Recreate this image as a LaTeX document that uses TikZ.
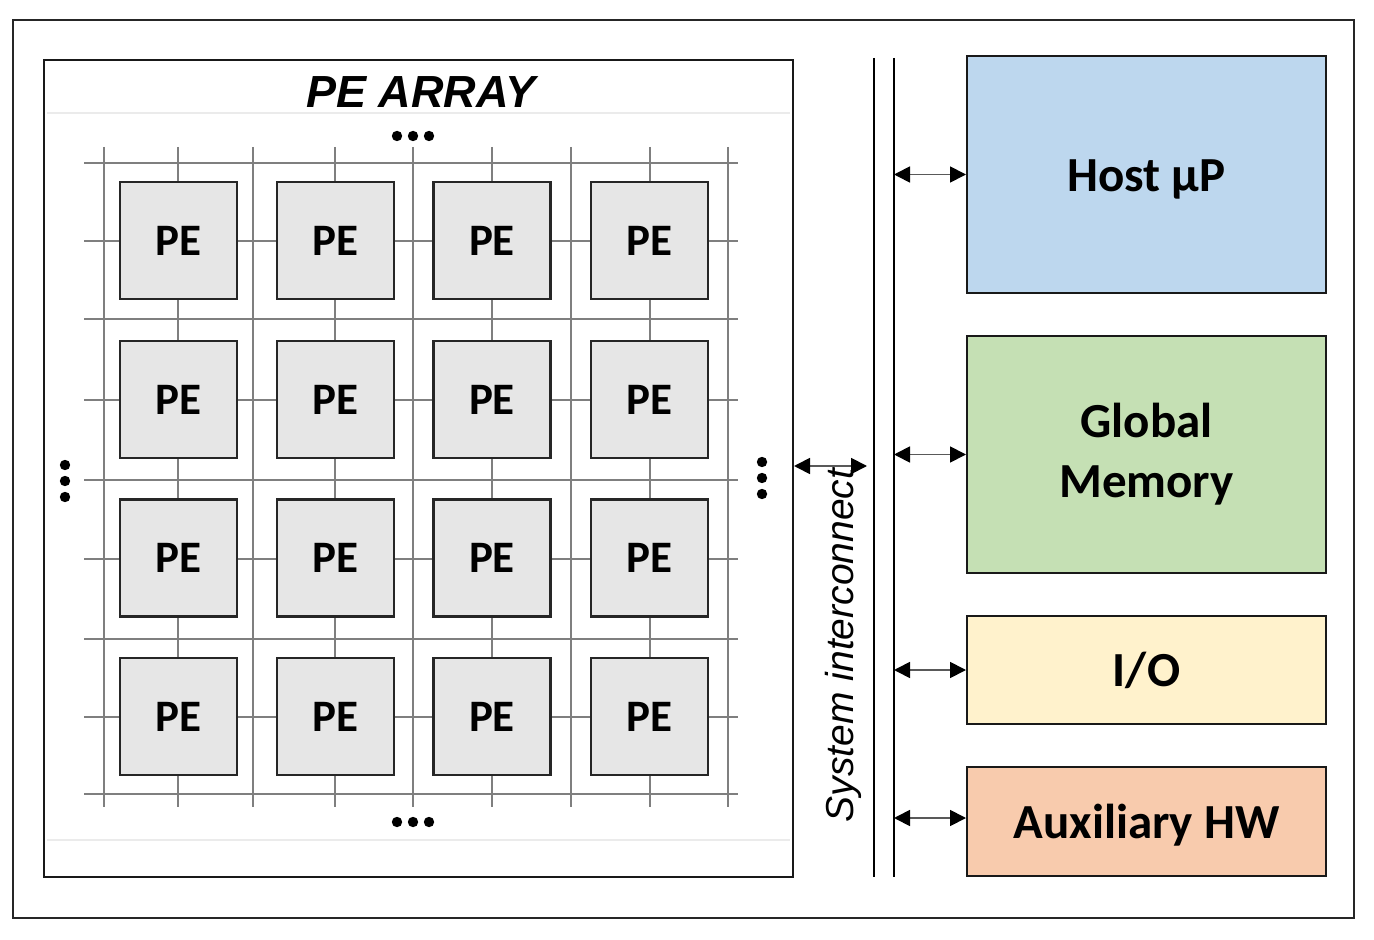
\documentclass[tikz,border=0pt]{standalone}
\usepackage{fontspec}
\setmainfont{Carlito}
\newfontfamily\arialf{Liberation Sans}
\usetikzlibrary{arrows.meta}
\definecolor{hostc}{HTML}{BDD7EE}
\definecolor{memc}{HTML}{C5E0B4}
\definecolor{ioc}{HTML}{FFF2CC}
\definecolor{auxc}{HTML}{F8CBAD}
\definecolor{pec}{HTML}{E6E6E6}
\definecolor{gridc}{HTML}{7F7F7F}
\definecolor{arrc}{HTML}{595959}
\begin{document}
\begin{tikzpicture}[x=0.5pt,y=-0.5pt,
  pebox/.style={draw=black!85, line width=1.3pt, fill=pec, minimum width=58.5pt, minimum height=58.5pt, inner sep=0pt, font=\fontsize{22.5}{26}\selectfont\bfseries},
  unitbox/.style={draw=black!90, line width=1pt, minimum width=179.5pt, inner sep=0pt, align=center, font=\fontsize{24.5}{30}\selectfont\bfseries},
  gridline/.style={draw=gridc, line width=0.7pt},
  busline/.style={draw=black, line width=1.1pt},
  biarrow/.style={draw=arrc, line width=0.9pt, {Triangle[length=8pt,width=8pt,color=black]}-{Triangle[length=8pt,width=8pt,color=black]}},
  dot/.style={fill=black}
]
\useasboundingbox (0,0) rectangle (1374,940);
% outer border
\draw[line width=1pt, draw=black!85] (13,20) rectangle (1354,918);
% PE array frame
\node[draw=black!90, line width=1pt, minimum width=374.5pt, minimum height=408.5pt, inner sep=0pt] (pearray) at (418.5,468.5) {};
\draw[draw=black!8, line width=0.6pt] (47,113) -- (790,113);
\draw[draw=black!8, line width=0.6pt] (47,840) -- (790,840);
\node[font=\arialf\fontsize{22.5}{27}\selectfont\bfseries\itshape, inner sep=0pt] (title) at (421,92) {PE ARRAY};
% grid
\foreach \gx in {104,178,253,335,413,492,571,650,728}
  \draw[gridline] (\gx,147) -- (\gx,807);
\foreach \gy in {163,241,319,400,480,559,639,717,794}
  \draw[gridline] (84,\gy) -- (738,\gy);
% PEs
\foreach \cx [count=\i] in {178.5,335.5,492,649.5}
  \foreach \cy [count=\j] in {240.5,399.5,558,716.5}
    \node[pebox] (pe\i\j) at (\cx,\cy) {\raisebox{-1pt}{PE}};
% dots
\foreach \dx in {397,413,429} {
  \fill[dot] (\dx,136) circle[radius=2.6pt];
  \fill[dot] (\dx,822) circle[radius=2.6pt];
}
\foreach \dy in {465,481,497} \fill[dot] (65,\dy) circle[radius=2.6pt];
\foreach \dy in {462,478,494} \fill[dot] (762,\dy) circle[radius=2.6pt];
% bus
\coordinate (bLt) at (874,58);
\coordinate (bLb) at (874,877);
\coordinate (bRt) at (894,58);
\coordinate (bRb) at (894,877);
\draw[busline] (bLt) -- (bLb);
\draw[busline] (bRt) -- (bRb);
\node[rotate=90, font=\arialf\fontsize{19.5}{23}\selectfont\itshape, inner sep=0pt] (sysl) at (843,645.5) {System interconnect};
% right units
\node[unitbox, fill=hostc, minimum height=118.5pt, text depth=0pt] (host) at (1146.5,174.5) {\raisebox{-1.5pt}{Host µP}};
\node[unitbox, fill=memc, minimum height=118.5pt] (mem) at (1146.5,454.5) {\raisebox{-1.5pt}{Global}\\\raisebox{-1.5pt}{Memory}};
\node[unitbox, fill=ioc, minimum height=54pt] (io) at (1146.5,670) {\raisebox{-1pt}{I/O}};
\node[unitbox, fill=auxc, minimum height=54.5pt, text depth=0pt] (aux) at (1146.5,821.5) {Auxiliary HW};
% arrows
\coordinate (sysarr) at (867,466);
\draw[biarrow] (pearray.east |- sysarr) -- (sysarr);
\draw[biarrow] (bRt |- host.west) -- (host.west);
\draw[biarrow] (bRt |- mem.west) -- (mem.west);
\draw[biarrow] (bRt |- io.west) -- (io.west);
\coordinate (auxarr) at (host.west |- 0,818);
\draw[biarrow] (bRt |- auxarr) -- (auxarr);
\end{tikzpicture}
\end{document}
